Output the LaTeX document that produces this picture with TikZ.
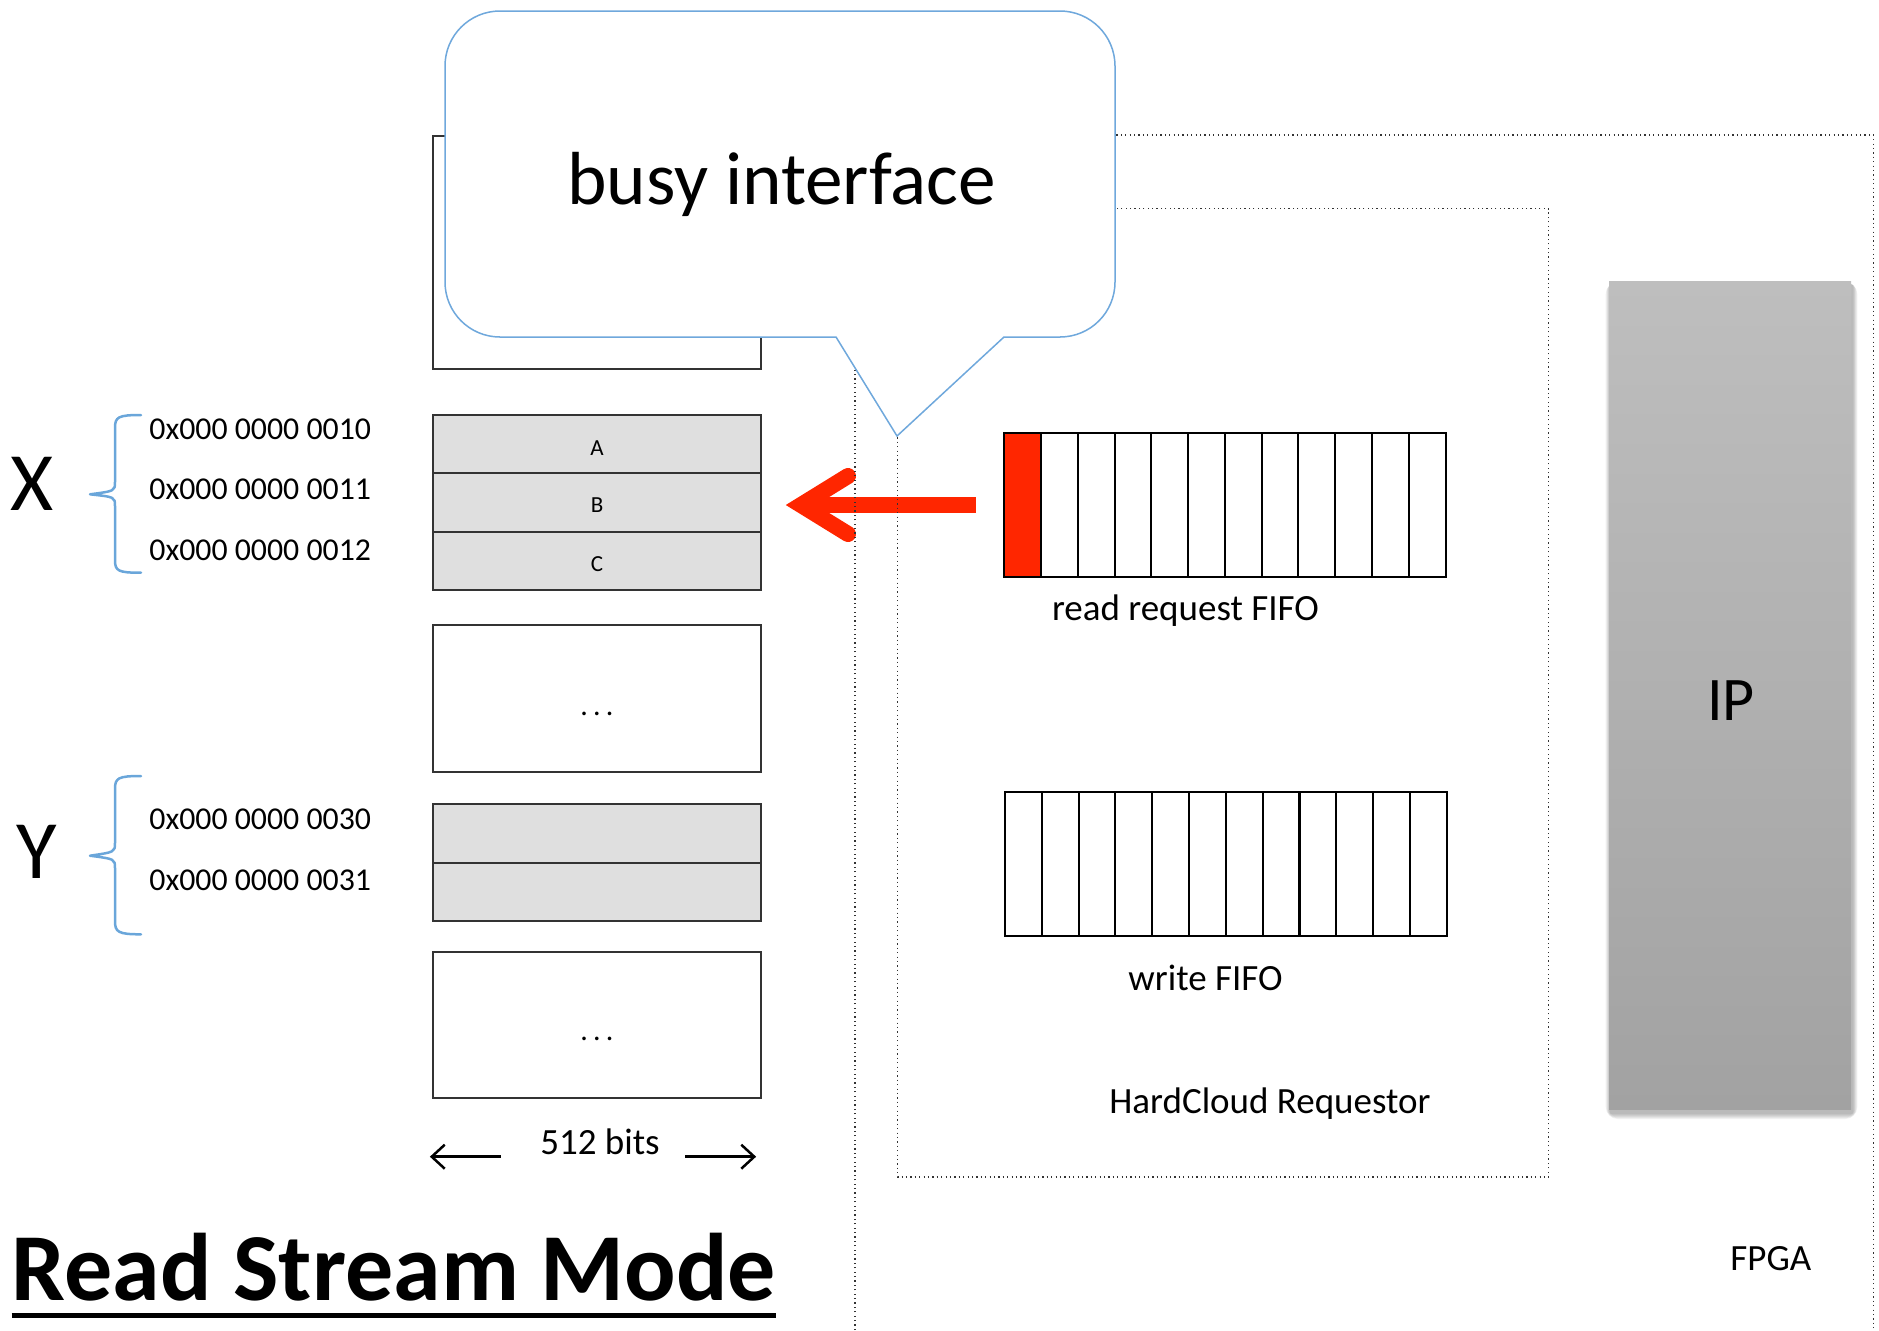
\documentclass[tikz,border=0pt]{standalone}
\usepackage{fontspec}
\setmainfont{Carlito}
\usetikzlibrary{calc,arrows.meta}
\definecolor{bubbleblue}{HTML}{6FA8DC}
\definecolor{bracecol}{HTML}{6AA6DA}
\definecolor{memfill}{HTML}{DFDFDF}
\definecolor{memline}{HTML}{333333}
\definecolor{alertred}{HTML}{FF2600}
\definecolor{ipTop}{HTML}{BEBEBE}
\definecolor{ipBot}{HTML}{A2A2A2}
\newcommand{\spreaddots}{.\kern2.6pt.\kern2.6pt.}
\begin{document}
\begin{tikzpicture}[x=0.5pt,y=-0.5pt,
  memcell/.style={draw=memline, line width=1pt, minimum width=164.15pt, inner sep=0pt},
  rowlabel/.style={inner sep=0pt, anchor=base, font=\fontsize{11.5}{12}\selectfont},
  fifocell/.style={draw=black, line width=1pt, minimum width=18.39pt, minimum height=72.3pt, inner sep=0pt},
  plainlabel/.style={inner sep=0pt, font=\fontsize{18.5}{20}\selectfont},
  addr/.style={inner sep=0pt, anchor=base west, font=\fontsize{15.9}{17}\selectfont},
  biglabel/.style={inner sep=0pt, anchor=base, font=\fontsize{41.5}{42}\selectfont},
  dotlabel/.style={inner sep=0pt, anchor=base, font=\fontsize{15}{16}\selectfont},
  bracestyle/.style={draw=bracecol, line width=1.25pt, line join=round, line cap=round},
  dotbox/.style={draw=black!80, line width=0.6pt, dash pattern=on 0.6pt off 1.6pt},
  redshaft/.style={draw=alertred, line width=8pt},
  dimarrow/.style={draw=black, line width=1.25pt, -{Straight Barb[length=6.5pt,width=12pt]}},
  bubble/.style={draw=bubbleblue, fill=white, line width=0.75pt}]

\useasboundingbox (0,0) rectangle (1879,1330);

% memory column
\node[memcell, fill=white, minimum height=116.25pt] (memtop) at (596.85,252.25) {};
\node[memcell, fill=memfill, minimum height=29.17pt] (rowA) at (596.85,444.2) {};
\node[memcell, fill=memfill, minimum height=29.17pt] (rowB) at (596.85,502.5) {};
\node[memcell, fill=memfill, minimum height=29.17pt] (rowC) at (596.85,560.85) {};
\node[rowlabel] (labA) at (597,455) {A};
\node[rowlabel] (labB) at (597,512.7) {B};
\node[rowlabel] (labC) at (597,571.7) {C};
\node[memcell, fill=white, minimum height=73.65pt] (memgapA) at (596.85,698.65) {};
\node[memcell, fill=memfill, minimum height=29.25pt] (rowYa) at (596.85,833.25) {};
\node[memcell, fill=memfill, minimum height=29.25pt] (rowYb) at (596.85,891.75) {};
\node[memcell, fill=white, minimum height=73.3pt, minimum width=164pt] (memgapB) at (596.5,1025) {};
\node[dotlabel] (dotsA) at (597,715) {\spreaddots};
\node[dotlabel] (dotsB) at (597,1040.5) {\spreaddots};

% addresses
\node[addr] (ax1) at (149,439.3) {0x000 0000 0010};
\node[addr] (ax2) at (149,499.3) {0x000 0000 0011};
\node[addr] (ax3) at (149,560) {0x000 0000 0012};
\node[addr] (ay1) at (149,829.3) {0x000 0000 0030};
\node[addr] (ay2) at (149,890) {0x000 0000 0031};

% group labels and braces
\node[biglabel] (labX) at (32,510) {X};
\node[biglabel] (labY) at (36.7,878) {Y};
\draw[bracestyle] (141,415) .. controls (118,415) and (115,417) .. (115,428)
  -- (115,482) .. controls (115,491) .. (90,494.3)
  .. controls (115,497) .. (115,506) -- (115,560)
  .. controls (115,571) and (118,572.7) .. (141,572.7);
\draw[bracestyle] (141,776) .. controls (118,776) and (115,778) .. (115,789)
  -- (115,843) .. controls (115,852) .. (90,855.7)
  .. controls (115,859) .. (115,868) -- (115,921)
  .. controls (115,932) and (118,934.3) .. (141,934.3);

% width annotation
\node[plainlabel, anchor=base] (bits) at (600,1154) {512 bits};
\draw[dimarrow] ([xshift=-19.5pt,yshift=-1.35pt]bits.base west) -- ++(-71,0);
\draw[dimarrow] ([xshift=12.5pt,yshift=-1.35pt]bits.base east) -- ++(71,0);

% title
\node[inner sep=0pt, anchor=base west, font=\fontsize{48}{50}\selectfont\bfseries] (title) at (11.5,1300) {Read Stream Mode};
\draw[line width=2.5pt] ([yshift=-7.9pt]title.base west) -- ([yshift=-7.9pt]title.base east);

% FIFOs
\foreach \i in {1,...,12} {
  \node[fifocell] (rf\i) at ({1004.3+36.77*(\i-0.5)},505) {};
  \node[fifocell, minimum height=72pt] (wf\i) at ({1005+36.81*(\i-0.5)},863.7) {};
}
\node[fifocell, fill=alertred] at (rf1) {};
\node[plainlabel, anchor=base west] (rfl) at (1051.6,620) {read request FIFO};
\node[plainlabel, anchor=base west] (wfl) at (1128,990) {write FIFO};

% request arrow from the read FIFO head to the memory row
\coordinate (vtx) at ([xshift=19.5pt]rowB.east |- rf1.west);
\draw[redshaft, line cap=butt] ([xshift=-13.7pt]rf1.west) -- (vtx);
\draw[redshaft, line cap=round, line join=miter] ($(vtx)+(47,-29)$) -- (vtx) -- ($(vtx)+(47,29)$);

% FPGA and requestor boundaries
\draw[dotbox] (855,1330) -- (855,135) -- (1873.5,135) -- (1873.5,1330);
\draw[dotbox] (897.6,208.5) rectangle (1548.5,1177);
\node[plainlabel, anchor=base west] (hcr) at (1109,1113) {HardCloud Requestor};
\node[plainlabel, anchor=base west] (fpga) at (1730,1270) {FPGA};

% IP block with soft shadow
\foreach \k in {1,...,6}
  \fill[black, opacity=0.05, rounded corners=\k pt]
    ({1609-\k*0.8+1.5},{281-\k*0.5+4}) rectangle ({1851+\k*0.8+1.5},{1109+\k+4});
\node[draw=none, inner sep=0pt, minimum width=121pt, minimum height=414pt,
  top color=ipTop, bottom color=ipBot] (ip) at (1730,695) {};
\node[inner sep=0pt, anchor=base, font=\fontsize{31}{33}\selectfont] (iplabel) at (1731,720.7) {IP};

% speech bubble
\draw[bubble] (500,11) -- (1060,11) arc[start angle=270, end angle=360, radius=55]
  -- (1115,282) arc[start angle=0, end angle=90, radius=55]
  -- (1004,337) -- (897,436) -- (836,337)
  -- (500,337) arc[start angle=90, end angle=180, radius=55]
  -- (445,66) arc[start angle=180, end angle=270, radius=55] -- cycle;
\node[inner sep=0pt, anchor=base, font=\fontsize{37.6}{39}\selectfont] (busy) at (781.5,204) {busy interface};
\end{tikzpicture}
\end{document}
